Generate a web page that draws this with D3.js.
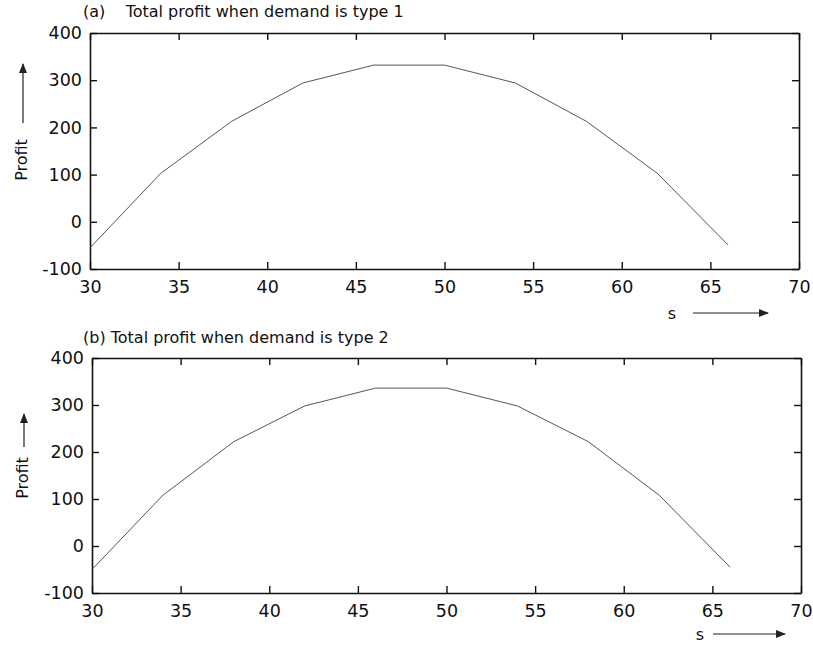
<!DOCTYPE html>
<html>
<head>
<meta charset="utf-8">
<script src="https://cdn.jsdelivr.net/npm/d3@7"></script>
<style>
  html, body { margin: 0; padding: 0; background: #fff; }
  svg { display: block; }
  text { font-family: "DejaVu Sans", "Liberation Sans", sans-serif; fill: #111; }
</style>
</head>
<body>
<svg id="chart" width="813" height="654"></svg>
<script>
// Order quantity s (x values shared by both panels)
const sValues = [30, 34, 38, 42, 46, 50, 54, 58, 62, 66];
// Total profit, demand type 1
const profitType1 = [-55, 103, 213, 294, 332, 332, 294, 213, 103, -49];
// Total profit, demand type 2
const profitType2 = [-50, 108, 222, 298, 336, 336, 298, 222, 108, -45];

const xTicks = [30, 35, 40, 45, 50, 55, 60, 65, 70];
const yTicks = [-100, 0, 100, 200, 300, 400];
const panelTitles = ["(a)    Total profit when demand is type 1", "(b) Total profit when demand is type 2"];

const svg = d3.select("#chart");

const panels = [
  { title: panelTitles[0], values: profitType1, left: 90, right: 799, top: 33, bottom: 269, titleX: 83, titleY: 17 },
  { title: panelTitles[1], values: profitType2, left: 92, right: 801, top: 358, bottom: 593, titleX: 83, titleY: 343 }
];

panels.forEach(p => {
  const g = svg.append("g");
  const x = d3.scaleLinear().domain([30, 70]).range([p.left, p.right]);
  const y = d3.scaleLinear().domain([-100, 400]).range([p.bottom, p.top]);

  // Frame axes with inward ticks
  const tickLen = 7;
  const axB = g.append("g").attr("transform", `translate(0,${p.bottom})`)
    .call(d3.axisBottom(x).tickValues(xTicks).tickSizeInner(-tickLen).tickSizeOuter(0).tickPadding(12).tickFormat(d => String(d)));
  const axT = g.append("g").attr("transform", `translate(0,${p.top})`)
    .call(d3.axisTop(x).tickValues(xTicks).tickSizeInner(-tickLen).tickSizeOuter(0).tickFormat(""));
  const axL = g.append("g").attr("transform", `translate(${p.left},0)`)
    .call(d3.axisLeft(y).tickValues(yTicks).tickSizeInner(-tickLen).tickSizeOuter(0).tickPadding(8).tickFormat(d => String(d)));
  const axR = g.append("g").attr("transform", `translate(${p.right},0)`)
    .call(d3.axisRight(y).tickValues(yTicks).tickSizeInner(-tickLen).tickSizeOuter(0).tickFormat(""));

  [axB, axT, axL, axR].forEach(a => {
    a.select(".domain").attr("stroke", "#111").attr("stroke-width", 1.6);
    a.selectAll(".tick line").attr("stroke", "#111").attr("stroke-width", 1.4);
    a.selectAll(".tick text").style("font-size", "17.5px").attr("fill", "#111");
  });

  // Profit curve
  const line = d3.line().x((d, i) => x(sValues[i])).y(d => y(d));
  g.append("path").datum(p.values)
    .attr("d", line)
    .attr("fill", "none")
    .attr("stroke", "#555")
    .attr("stroke-width", 1);

  // Panel title
  g.append("text").attr("x", p.titleX).attr("y", p.titleY)
    .style("font-size", "16px").style("white-space", "pre")
    .attr("xml:space", "preserve").text(p.title);
});

// Arrow marker
svg.append("defs").append("marker")
  .attr("id", "arrow").attr("viewBox", "0 0 10 10")
  .attr("refX", 9).attr("refY", 5)
  .attr("markerWidth", 10).attr("markerHeight", 10)
  .attr("markerUnits", "userSpaceOnUse")
  .attr("orient", "auto")
  .append("path").attr("d", "M0,1 L10,5 L0,9 Z").attr("fill", "#222");

// y-axis labels: "Profit" with upward arrow
function profitLabel(cx, cy, arrowFrom, arrowTo) {
  svg.append("text")
    .attr("transform", `translate(${cx},${cy}) rotate(-90)`)
    .attr("text-anchor", "middle")
    .attr("dy", "0.35em")
    .style("font-size", "16px")
    .text("Profit");
  svg.append("line")
    .attr("x1", cx + 2).attr("y1", arrowFrom)
    .attr("x2", cx + 2).attr("y2", arrowTo)
    .attr("stroke", "#222").attr("stroke-width", 1.2)
    .attr("marker-end", "url(#arrow)");
}
profitLabel(21, 160, 123, 64);
profitLabel(22, 478, 447, 414);

// x-axis labels: "s" with rightward arrow
function sLabel(sx, sy, x1, x2) {
  svg.append("text").attr("x", sx).attr("y", sy)
    .attr("text-anchor", "middle").attr("dy", "0.35em")
    .style("font-size", "16px").text("s");
  svg.append("line")
    .attr("x1", x1).attr("y1", sy).attr("x2", x2).attr("y2", sy)
    .attr("stroke", "#222").attr("stroke-width", 1.2)
    .attr("marker-end", "url(#arrow)");
}
sLabel(672, 313, 693, 768);
sLabel(700, 634, 713, 785);
</script>
</body>
</html>
